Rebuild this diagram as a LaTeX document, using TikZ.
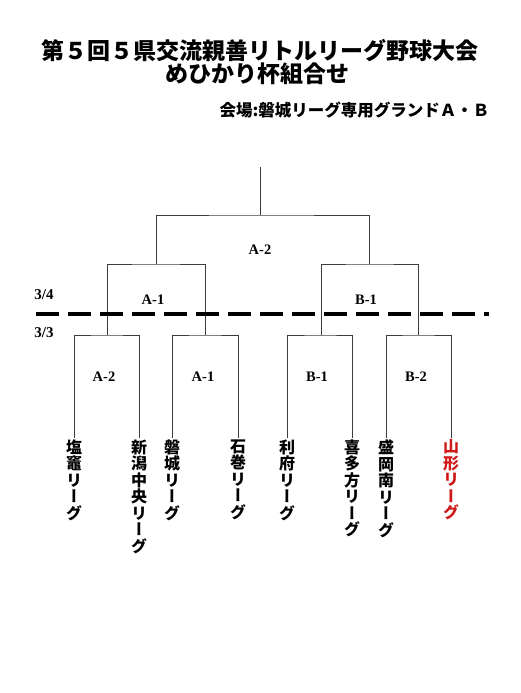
\documentclass[tikz,border=0pt]{standalone}
\usepackage{fontspec}
\setmainfont{Liberation Serif}
\newfontfamily\jpfont{Noto Sans CJK JP}
\newfontfamily\jpvfont{Noto Sans CJK JP}[RawFeature=+vert]
\usetikzlibrary{positioning}
\definecolor{linegray}{HTML}{3C3C3C}
\definecolor{teamred}{HTML}{D01818}

\begin{document}
\begin{tikzpicture}[
  x=1pt,y=-1pt,
  line/.style={draw=linegray,line width=0.9pt},
  team/.style={anchor=north,align=center,inner sep=1.5pt,font=\jpvfont\bfseries\fontsize{16}{16.5}\selectfont},
  match/.style={font=\bfseries\fontsize{14.5}{14.5}\selectfont},
  day/.style={font=\bfseries\fontsize{15}{15}\selectfont},
  divider/.style={line width=4pt,dash pattern=on 23pt off 9pt}
]
\useasboundingbox[fill=white] (0,0) rectangle (520,693);
% title
\node[font=\jpfont\bfseries\fontsize{23}{23}\selectfont] (title) at (260,51) {第５回５県交流親善リトルリーグ野球大会};
\node[font=\jpfont\bfseries\fontsize{23}{23}\selectfont] (subtitle) at (257,74) {めひかり杯組合せ};
\node[anchor=east,font=\jpfont\bfseries\fontsize{16.5}{16.5}\selectfont] (venue) at (493,110) {会場:磐城リーグ専用グランドＡ・Ｂ};
% teams
\node[team] (t1) at (74,438) {塩\\竈\\リ\\ー\\グ};
\node[team] (t2) at (139,438) {新\\潟\\中\\央\\リ\\ー\\グ};
\node[team] (t3) at (172,438) {磐\\城\\リ\\ー\\グ};
\node[team] (t4) at (238,438) {石\\巻\\リ\\ー\\グ};
\node[team] (t5) at (287,438) {利\\府\\リ\\ー\\グ};
\node[team] (t6) at (352,438) {喜\\多\\方\\リ\\ー\\グ};
\node[team] (t7) at (386,438) {盛\\岡\\南\\リ\\ー\\グ};
\node[team,text=teamred] (t8) at (451,438) {山\\形\\リ\\ー\\グ};
% bracket points
\coordinate (r1) at (107,335);
\coordinate (r2) at (205,335);
\coordinate (r3) at (321,335);
\coordinate (r4) at (418,335);
\coordinate (q1) at (156,264);
\coordinate (q2) at (369.5,264);
\coordinate (sf) at (260,215);
\coordinate (top) at (260,167);
\draw[line] (t1.north) |- (r1) -| (t2.north);
\draw[line] (t3.north) |- (r2) -| (t4.north);
\draw[line] (t5.north) |- (r3) -| (t6.north);
\draw[line] (t7.north) |- (r4) -| (t8.north);
\draw[line] (r1) |- (q1) -| (r2);
\draw[line] (r3) |- (q2) -| (r4);
\draw[line] (q1) |- (sf) -| (q2);
\draw[line] (sf) -- (top);
% match labels
\node[match] (m1) at (104,377) {A-2};
\node[match] (m2) at (203,377) {A-1};
\node[match] (m3) at (317,377) {B-1};
\node[match] (m4) at (416,377) {B-2};
\node[match] (m5) at (153,300) {A-1};
\node[match] (m6) at (366,300) {B-1};
\node[match] (m7) at (260,250) {A-2};
% days
\node[day] (d1) at (44,295) {3/4};
\node[day] (d2) at (44,333) {3/3};
\coordinate (dl) at (36,313.5);
\coordinate (dr) at (489,313.5);
\draw[divider] (dl) -- (dr);
\end{tikzpicture}
\end{document}
